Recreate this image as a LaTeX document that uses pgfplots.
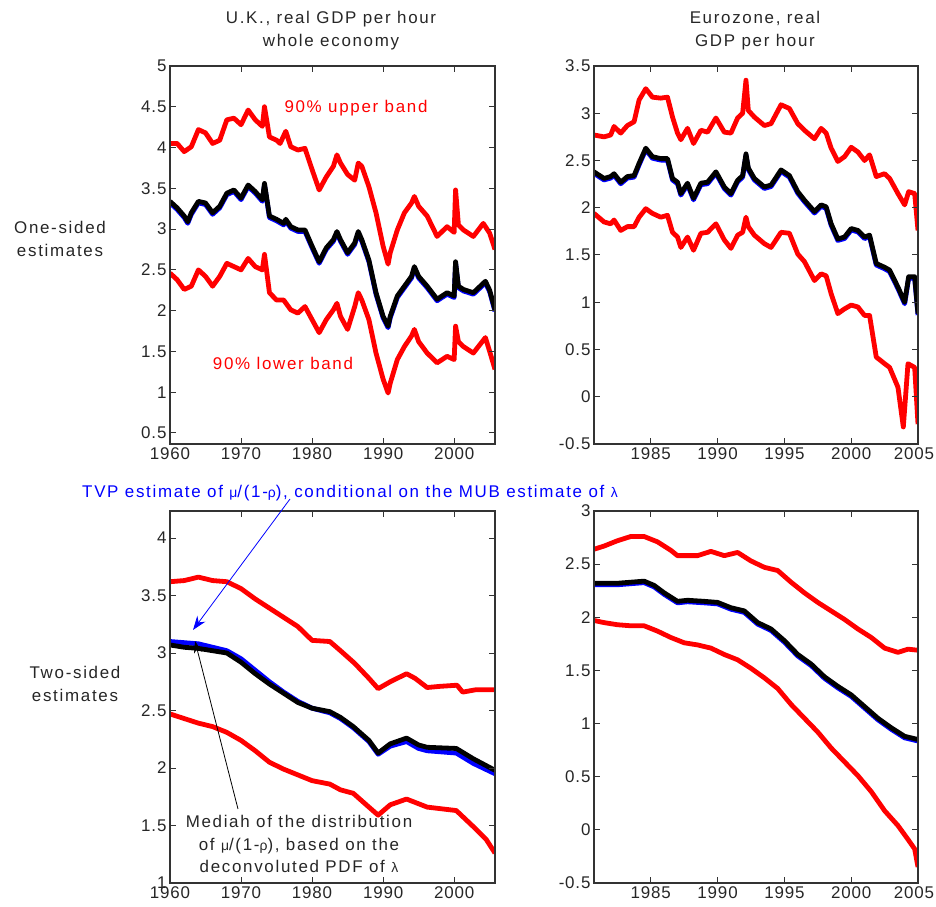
\documentclass[border=0pt]{standalone}
\usepackage{fontspec}
\setmainfont{Liberation Sans}[LetterSpace=10]
\newfontfamily\tk{Liberation Sans}[LetterSpace=5]
\usepackage{pgfplots}
\usetikzlibrary{arrows.meta}
\pgfplotsset{compat=1.18}
\newcommand\tf{\fontsize{17}{23}\selectfont}
\newcommand\gk{\fontsize{14}{14}\selectfont}
\pgfplotsset{
  mat/.style={
    scale only axis, anchor=south west,
    tick align=inside, major tick length=6bp,
    axis line style={line width=1.2bp, black!80},
    every tick/.style={line width=1bp, black!80},
    ticklabel style={font=\tk\fontsize{17}{20}\selectfont, black!85},
    /pgf/number format/assume math mode=true,
    /pgf/number format/1000 sep={},
    axis on top,
  },
  rl/.style={red, line width=4.8bp, line join=round},
  kl/.style={black, line width=4.8bp, line join=round},
  bl/.style={blue, line width=4.8bp, line join=round},
}
\begin{document}
\begin{tikzpicture}
\useasboundingbox (0bp,0bp) rectangle (936bp,907bp);

% ---------------- top-left: UK one-sided
\begin{axis}[mat, at={(170bp,463bp)}, width=325bp, height=378bp,
  xmin=1960, xmax=2005.75, ymin=0.365, ymax=5,
  xtick={1960,1970,1980,1990,2000},
  ytick={0.5,1,1.5,2,2.5,3,3.5,4,4.5,5}]
\addplot[rl] table {
1960 4.05
1961 4.05
1962 3.95
1963 4.01
1964 4.22
1965 4.18
1966 4.05
1967 4.09
1968 4.34
1969 4.36
1970 4.28
1971 4.46
1972 4.34
1973 4.26
1973.3 4.50
1974 4.13
1975 4.09
1975.5 4.05
1976.3 4.20
1977 4.01
1978 3.97
1979 3.99
1980 3.73
1981 3.48
1982 3.64
1983 3.77
1983.5 3.91
1984 3.81
1985 3.67
1986 3.60
1986.5 3.81
1987 3.77
1988 3.52
1989 3.20
1990 2.79
1990.7 2.57
1991 2.71
1992 2.99
1993 3.20
1994 3.32
1994.4 3.40
1995 3.28
1996.2 3.16
1997.6 2.91
1999 3.03
2000 2.96
2000.2 3.48
2000.6 3.05
2001.3 2.99
2002.7 2.91
2004.1 3.07
2005 2.95
2005.75 2.75
};
\addplot[bl, yshift=-1.5bp] table {
1960 3.34
1961 3.26
1962 3.16
1962.5 3.09
1963 3.20
1964 3.34
1965 3.32
1966 3.20
1967 3.28
1968 3.44
1969 3.48
1970 3.38
1971 3.54
1972 3.46
1973 3.36
1973.3 3.56
1974 3.16
1975 3.12
1976 3.07
1976.3 3.12
1977 3.03
1978 2.99
1979 2.99
1980 2.79
1981 2.60
1982 2.77
1983 2.87
1983.5 2.97
1984 2.87
1985 2.71
1986 2.83
1986.5 2.97
1987 2.87
1988 2.62
1989 2.22
1990 1.93
1990.7 1.81
1991 1.93
1992 2.18
1993 2.30
1994 2.42
1994.4 2.54
1995 2.42
1996.2 2.30
1997.6 2.14
1999 2.22
2000 2.18
2000.2 2.60
2000.6 2.30
2001.3 2.26
2002.7 2.22
2004.4 2.36
2005 2.25
2005.75 2.01
};
\addplot[kl] table {
1960 3.34
1961 3.26
1962 3.16
1962.5 3.09
1963 3.20
1964 3.34
1965 3.32
1966 3.20
1967 3.28
1968 3.44
1969 3.48
1970 3.38
1971 3.54
1972 3.46
1973 3.36
1973.3 3.56
1974 3.16
1975 3.12
1976 3.07
1976.3 3.12
1977 3.03
1978 2.99
1979 2.99
1980 2.79
1981 2.60
1982 2.77
1983 2.87
1983.5 2.97
1984 2.87
1985 2.71
1986 2.83
1986.5 2.97
1987 2.87
1988 2.62
1989 2.22
1990 1.93
1990.7 1.81
1991 1.93
1992 2.18
1993 2.30
1994 2.42
1994.4 2.54
1995 2.42
1996.2 2.30
1997.6 2.14
1999 2.22
2000 2.18
2000.2 2.60
2000.6 2.30
2001.3 2.26
2002.7 2.22
2004.4 2.36
2005 2.25
2005.75 2.01
};
\addplot[rl] table {
1960 2.46
1961 2.38
1962 2.26
1963 2.30
1964 2.50
1965 2.42
1966 2.30
1967 2.42
1968 2.58
1969 2.54
1970 2.50
1971 2.64
1972 2.54
1973 2.50
1973.3 2.69
1974 2.22
1975 2.13
1976 2.13
1977 2.01
1978 1.97
1979 2.05
1980 1.89
1981 1.73
1982 1.89
1983 2.01
1983.5 2.09
1984 1.93
1985 1.77
1986 2.05
1986.5 2.22
1987 2.13
1988 1.89
1989 1.48
1990 1.16
1990.7 0.99
1991 1.11
1992 1.40
1993 1.56
1994 1.69
1994.4 1.77
1995 1.62
1996.2 1.48
1997.6 1.36
1999 1.44
2000 1.40
2000.2 1.81
2000.6 1.62
2001.3 1.56
2002.7 1.48
2004.4 1.67
2005 1.50
2005.75 1.28
};
\end{axis}

% ---------------- top-right: Eurozone one-sided
\begin{axis}[mat, at={(594bp,463bp)}, width=324bp, height=378bp,
  xmin=1980.75, xmax=2005, ymin=-0.5, ymax=3.5,
  xtick={1985,1990,1995,2000,2005},
  xticklabels={1985,1990,1995,2000,2005\kern8bp},
  ytick={-0.5,0,0.5,1,1.5,2,2.5,3,3.5}]
\addplot[rl] table {
1980.75 2.77
1981.5 2.75
1982 2.77
1982.25 2.86
1982.75 2.79
1983.25 2.87
1983.75 2.91
1984.125 3.14
1984.625 3.26
1985.125 3.17
1985.75 3.16
1986.25 3.17
1986.625 2.96
1987 2.79
1987.25 2.72
1987.75 2.84
1988.2 2.68
1988.75 2.82
1989.25 2.80
1989.875 2.95
1990.5 2.80
1991 2.79
1991.5 2.95
1991.875 3.00
1992.125 3.35
1992.3 3.03
1992.75 2.96
1993.5 2.87
1994 2.89
1994.75 3.09
1995.375 3.05
1996 2.89
1996.5 2.82
1997.25 2.73
1997.75 2.84
1998.125 2.79
1998.5 2.63
1999 2.49
1999.5 2.54
2000 2.64
2000.5 2.59
2001 2.50
2001.375 2.56
2001.875 2.33
2002.5 2.36
2002.875 2.31
2003.5 2.15
2004 2.03
2004.3 2.17
2004.75 2.15
2005 1.76
};
\addplot[bl, yshift=-1.5bp] table {
1980.75 2.38
1981.5 2.31
1982 2.33
1982.25 2.36
1982.75 2.27
1983.25 2.33
1983.75 2.34
1984.125 2.47
1984.625 2.63
1985.125 2.54
1985.75 2.52
1986.25 2.52
1986.625 2.31
1987 2.27
1987.25 2.15
1987.75 2.26
1988.2 2.10
1988.75 2.26
1989.25 2.27
1989.875 2.38
1990.5 2.22
1991 2.15
1991.5 2.29
1991.875 2.34
1992.125 2.57
1992.3 2.42
1992.75 2.31
1993.5 2.22
1994 2.24
1994.75 2.40
1995.375 2.34
1996 2.17
1996.5 2.08
1997.25 1.96
1997.75 2.03
1998.125 2.01
1998.5 1.83
1999 1.67
1999.5 1.69
2000 1.78
2000.5 1.76
2001 1.69
2001.375 1.71
2001.875 1.41
2002.5 1.37
2002.875 1.34
2003.5 1.16
2004 1.00
2004.3 1.27
2004.75 1.27
2005 0.88
};
\addplot[kl] table {
1980.75 2.38
1981.5 2.31
1982 2.33
1982.25 2.36
1982.75 2.27
1983.25 2.33
1983.75 2.34
1984.125 2.47
1984.625 2.63
1985.125 2.54
1985.75 2.52
1986.25 2.52
1986.625 2.31
1987 2.27
1987.25 2.15
1987.75 2.26
1988.2 2.10
1988.75 2.26
1989.25 2.27
1989.875 2.38
1990.5 2.22
1991 2.15
1991.5 2.29
1991.875 2.34
1992.125 2.57
1992.3 2.42
1992.75 2.31
1993.5 2.22
1994 2.24
1994.75 2.40
1995.375 2.34
1996 2.17
1996.5 2.08
1997.25 1.96
1997.75 2.03
1998.125 2.01
1998.5 1.83
1999 1.67
1999.5 1.69
2000 1.78
2000.5 1.76
2001 1.69
2001.375 1.71
2001.875 1.41
2002.5 1.37
2002.875 1.34
2003.5 1.16
2004 1.00
2004.3 1.27
2004.75 1.27
2005 0.88
};
\addplot[rl] table {
1980.75 1.94
1981.5 1.85
1982 1.83
1982.25 1.87
1982.75 1.76
1983.25 1.80
1983.75 1.80
1984.125 1.90
1984.625 1.99
1985.125 1.94
1985.75 1.90
1986.25 1.92
1986.625 1.74
1987 1.69
1987.25 1.58
1987.75 1.69
1988.2 1.55
1988.75 1.73
1989.25 1.74
1989.875 1.83
1990.5 1.66
1991 1.57
1991.5 1.71
1991.875 1.74
1992.125 1.90
1992.3 1.80
1992.75 1.71
1993.5 1.62
1994 1.58
1994.75 1.74
1995.375 1.73
1996 1.51
1996.5 1.43
1997.25 1.23
1997.75 1.30
1998.125 1.28
1998.5 1.09
1999 0.88
1999.5 0.93
2000 0.97
2000.5 0.95
2001 0.86
2001.375 0.86
2001.875 0.42
2002.5 0.35
2002.875 0.31
2003.5 0.10
2003.9 -0.32
2004.25 0.35
2004.75 0.31
2005 -0.29
};
\end{axis}

% ---------------- bottom-left: UK two-sided
\begin{axis}[mat, at={(170bp,24bp)}, width=325bp, height=372bp,
  xmin=1960, xmax=2005.75, ymin=1, ymax=4.235,
  xtick={1960,1970,1980,1990,2000},
  ytick={1,1.5,2,2.5,3,3.5,4}]
\addplot[rl] table {
1960 3.62
1962 3.63
1964 3.66
1966 3.63
1968 3.62
1970 3.56
1972 3.47
1974 3.39
1976 3.31
1978 3.23
1980 3.11
1982.5 3.10
1984 3.02
1986 2.91
1988 2.78
1989.3 2.69
1991 2.75
1993.3 2.82
1994.5 2.78
1996.2 2.70
1998 2.71
2000.4 2.72
2001.2 2.66
2003 2.68
2005.75 2.68
};
\addplot[bl] table {
1960 3.10
1962 3.09
1964 3.08
1966 3.05
1968 3.02
1970 2.95
1972 2.85
1974 2.75
1976 2.66
1978 2.58
1980 2.52
1982.5 2.48
1984 2.43
1985.8 2.35
1988 2.23
1989.3 2.12
1991 2.19
1993.3 2.23
1995 2.17
1996.2 2.15
2000.3 2.13
2002.7 2.04
2005.75 1.95
};
\addplot[kl] table {
1960 3.07
1962 3.05
1964 3.04
1966 3.02
1968 3.00
1970 2.92
1972 2.82
1974 2.73
1976 2.65
1978 2.57
1980 2.52
1982.5 2.49
1984 2.44
1985.8 2.36
1988 2.24
1989.3 2.13
1991 2.21
1993.3 2.26
1995 2.20
1996.2 2.18
2000.3 2.17
2002.7 2.08
2005.75 1.98
};
\addplot[rl] table {
1960 2.47
1962 2.43
1964 2.39
1966 2.36
1968 2.31
1970 2.24
1972 2.15
1974 2.05
1976 1.99
1978 1.94
1980 1.89
1982.5 1.86
1984 1.81
1985.8 1.78
1988 1.66
1989.3 1.59
1991 1.68
1993.3 1.73
1996.2 1.66
2000.3 1.63
2002.7 1.49
2004.5 1.38
2005.75 1.26
};
\end{axis}

% ---------------- bottom-right: Eurozone two-sided
\begin{axis}[mat, at={(594bp,24bp)}, width=324bp, height=372bp,
  xmin=1980.75, xmax=2005, ymin=-0.5, ymax=3,
  xtick={1985,1990,1995,2000,2005},
  xticklabels={1985,1990,1995,2000,2005\kern8bp},
  ytick={-0.5,0,0.5,1,1.5,2,2.5,3}]
\addplot[rl] table {
1980.75 2.64
1981.5 2.67
1982.5 2.72
1983.5 2.76
1984.5 2.76
1985.5 2.71
1986.5 2.63
1987 2.58
1988.5 2.58
1989.5 2.62
1990.5 2.58
1991.5 2.61
1992.5 2.53
1993.5 2.47
1994.5 2.44
1995.5 2.33
1996.5 2.23
1997.5 2.14
1998.5 2.06
1999.5 1.98
2000.5 1.89
2001.5 1.81
2002.5 1.71
2003.5 1.67
2004.25 1.70
2005 1.69
};
\addplot[bl, yshift=-1.5bp] table {
1980.75 2.32
1981.5 2.32
1982.5 2.32
1983.5 2.33
1984.5 2.34
1985.25 2.30
1986 2.23
1987 2.15
1987.75 2.16
1989 2.15
1990 2.14
1991 2.09
1992 2.06
1993 1.95
1994 1.89
1995 1.78
1996 1.65
1997 1.56
1998 1.44
1999 1.35
2000 1.27
2001 1.16
2002 1.05
2003 0.96
2004 0.88
2005 0.85
};
\addplot[kl] table {
1980.75 2.32
1981.5 2.32
1982.5 2.32
1983.5 2.33
1984.5 2.34
1985.25 2.30
1986 2.23
1987 2.15
1987.75 2.16
1989 2.15
1990 2.14
1991 2.09
1992 2.06
1993 1.95
1994 1.89
1995 1.78
1996 1.65
1997 1.56
1998 1.44
1999 1.35
2000 1.27
2001 1.16
2002 1.05
2003 0.96
2004 0.88
2005 0.85
};
\addplot[rl] table {
1980.75 1.97
1981.5 1.95
1982.5 1.93
1983.5 1.92
1984.5 1.92
1985.5 1.87
1986.5 1.81
1987.5 1.76
1988.5 1.74
1989.5 1.71
1990.5 1.65
1991.5 1.60
1992.5 1.52
1993.5 1.43
1994.5 1.33
1995.5 1.18
1996.5 1.05
1997.5 0.92
1998.5 0.77
1999.5 0.64
2000.5 0.51
2001.5 0.36
2002.5 0.18
2003.5 0.04
2004.25 -0.09
2004.75 -0.18
2005 -0.35
};
\end{axis}

% ---------------- texts and annotations
\node[font=\tf, align=center, text=black!85] at (331bp,876bp) {U.K., real GDP per hour\\whole economy};
\node[font=\tf, align=center, text=black!85] at (755bp,876bp) {Eurozone, real\\GDP per hour};
\node[font=\tf, align=center, text=black!85] at (60bp,668bp) {One-sided\\estimates};
\node[font=\tf, align=center, text=black!85] at (75bp,223bp) {Two-sided\\estimates};
\node[font=\tf, text=red] at (356bp,799bp) {90\% upper band};
\node[font=\tf, text=red] at (283bp,544bp) {90\% lower band};
\node[font=\tf, text=blue] at (350bp,414bp) {TVP estimate of {\gk μ}/(1-{\gk ρ}), conditional on the MUB estimate of {\gk λ}};
\draw[blue, line width=0.8bp, -{Stealth[length=14bp, width=10bp]}] (290bp,408bp) -- (193bp,277bp);
\draw[black, line width=0.8bp, -{Stealth[length=12bp, width=8bp]}] (238bp,98bp) -- (195bp,266bp);
\node[font=\tf, align=center, text=black!85] at (299bp,63bp) {Mediah of the distribution\\of {\gk μ}/(1-{\gk ρ}), based on the\\deconvoluted PDF of {\gk λ}};
\end{tikzpicture}
\end{document}
